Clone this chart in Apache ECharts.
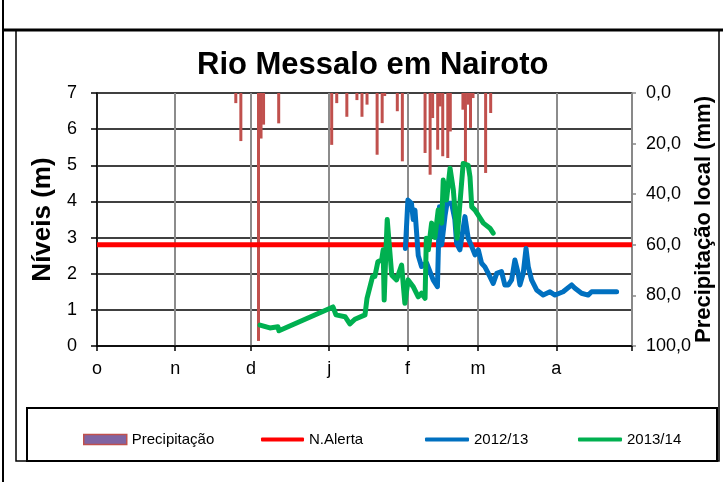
<!DOCTYPE html>
<html>
<head>
<meta charset="utf-8">
<script src="https://cdn.jsdelivr.net/npm/echarts@6/dist/echarts.min.js"></script>
<style>
html, body { margin: 0; padding: 0; background: #fff; }
#chartBox { width: 723px; height: 495px; }
</style>
</head>
<body>
<div id="chartBox"></div>
<script>
// eixo x: dias desde 1 de outubro
const monthDays = [0, 31, 61, 92, 123, 151, 182, 212]
const monthLabels = ['o', 'n', 'd', 'j', 'f', 'm', 'a', '']

// precipitação local (mm)
const rainDays = [55, 57, 64, 65, 66, 72, 93, 95, 99, 103, 105, 107, 111, 113, 114, 119, 121, 130, 132, 133, 135, 136, 137, 139, 140, 145, 146, 147, 148, 149, 154, 156]
const rainMm = [4, 19, 98, 18, 12.5, 12, 20.5, 4, 9.4, 2.8, 9.4, 4.6, 24.4, 11.9, 1.2, 7.2, 27, 23.7, 32.3, 9.9, 22.4, 5.3, 25, 25.7, 15.2, 6.6, 28.3, 4.6, 13.8, 2, 31.6, 7.9]

// nível de alerta
const alertDays = [0, 212]
const alertLevel = [2.8, 2.8]

// 2012/13
const days1213 = [122.2, 123.2, 124.6, 125.3, 126.0, 127.3, 128.6, 130.6, 133.2, 134.9, 135.7, 136.6, 137.9, 138.7, 140.5, 141.8, 142.5, 143.8, 145.8, 147.1, 148.5, 149.8, 151.1, 152.4, 153.7, 155.7, 157.0, 158.4, 160.3, 161.6, 163.0, 164.3, 165.6, 166.9, 167.6, 168.9, 170.0, 170.9, 172.2, 174.2, 176.8, 179.5, 181.5, 184.7, 188.1, 189.4, 192.0, 194.6, 196.0, 205.9]
const levels1213 = [2.7, 4.04, 3.95, 3.5, 3.76, 2.5, 2.2, 2.3, 1.83, 1.64, 3.85, 2.8, 3.6, 3.95, 3.95, 3.5, 2.84, 2.66, 3.58, 2.98, 2.75, 2.52, 2.66, 2.29, 2.19, 1.92, 1.73, 2.01, 2.06, 1.69, 1.69, 1.83, 2.38, 2.01, 1.69, 2.01, 2.7, 2.19, 1.83, 1.55, 1.41, 1.5, 1.41, 1.5, 1.69, 1.6, 1.46, 1.41, 1.5, 1.5]

// 2013/14
const days1314 = [64.6, 68.5, 71.7, 72.1, 93.5, 94.7, 98.3, 100.2, 102.2, 106.2, 107.0, 109.2, 110.1, 111.3, 112.8, 113.4, 113.8, 114.4, 115.0, 116.8, 118.7, 120.7, 122.0, 123.3, 125.3, 127.3, 128.6, 130.0, 130.5, 131.3, 132.6, 133.9, 135.2, 136.6, 137.2, 138.5, 139.9, 141.2, 142.7, 145.1, 147.1, 147.8, 148.5, 149.8, 153.1, 155.7, 157.0]
const levels1314 = [0.58, 0.5, 0.53, 0.42, 1.08, 0.86, 0.81, 0.61, 0.74, 0.86, 1.32, 1.92, 1.92, 2.33, 2.38, 2.66, 1.27, 2.47, 3.5, 1.96, 1.83, 2.24, 1.18, 1.83, 1.64, 1.36, 1.46, 1.32, 2.98, 2.66, 3.4, 3.0, 3.76, 3.4, 4.59, 4.04, 4.92, 4.32, 2.98, 5.05, 5.0, 4.68, 3.85, 3.76, 3.4, 3.26, 3.12]

function pairs (xs, ys) {
  return xs.map((x, i) => [x, ys[i]])
}

const font = '"Liberation Sans", Arial, sans-serif'
const legendText = { fontSize: 15, color: '#000', fontFamily: font }

let myChart = echarts.init(document.getElementById('chartBox'))
myChart.setOption({
  animation: false,
  textStyle: { fontFamily: font },
  title: {
    text: 'Rio Messalo em Nairoto',
    left: 192,
    top: 45,
    textStyle: { fontSize: 31, fontWeight: 'bold', color: '#000', fontFamily: font }
  },
  grid: { left: 97, right: 91, top: 93, bottom: 149, outerBoundsMode: 'none', containLabel: false },
  legend: [
    {
      left: 78, top: 427, itemWidth: 43, itemHeight: 10, textStyle: legendText,
      data: [{ name: 'Precipitação', icon: 'rect', itemStyle: { color: '#8064A2', borderColor: '#C0504D', borderWidth: 1.5 } }]
    },
    { left: 256, top: 427, itemWidth: 43, itemHeight: 4, textStyle: legendText, data: [{ name: 'N.Alerta', icon: 'roundRect' }] },
    { left: 420, top: 427, itemWidth: 44, itemHeight: 4, textStyle: legendText, data: [{ name: '2012/13', icon: 'roundRect' }] },
    { left: 573, top: 427, itemWidth: 44, itemHeight: 4, textStyle: legendText, data: [{ name: '2013/14', icon: 'roundRect' }] }
  ],
  xAxis: {
    type: 'value',
    min: 0,
    max: 212,
    axisLine: { lineStyle: { color: '#000', width: 1.5 } },
    axisTick: { customValues: monthDays, length: 5, lineStyle: { color: '#000', width: 1.5 } },
    axisLabel: {
      customValues: monthDays.slice(0, 7),
      formatter: v => monthLabels[monthDays.indexOf(v)],
      fontSize: 18,
      color: '#000',
      margin: 14
    },
    splitLine: { show: true, lineStyle: { color: '#8c8c8c', width: 2 } }
  },
  yAxis: [
    {
      type: 'value',
      min: 0,
      max: 7,
      interval: 1,
      name: 'Níveis (m)',
      nameLocation: 'middle',
      nameRotate: 90,
      nameGap: 41,
      nameTextStyle: { fontSize: 26, fontWeight: 'bold', color: '#000' },
      axisLine: { show: true, lineStyle: { color: '#000', width: 1.5 } },
      axisTick: { show: true, length: 6, lineStyle: { color: '#000', width: 1.5 } },
      axisLabel: { fontSize: 18, color: '#000', margin: 20 },
      splitLine: { lineStyle: { color: '#000', width: 1.5 } }
    },
    {
      type: 'value',
      min: 0,
      max: 100,
      interval: 20,
      inverse: true,
      position: 'right',
      name: 'Precipitação local (mm)',
      nameLocation: 'middle',
      nameRotate: 90,
      nameGap: 61,
      nameMoveOverlap: false,
      nameTextStyle: { fontSize: 22, fontWeight: 'bold', color: '#000' },
      axisLine: { show: true, lineStyle: { color: '#888', width: 1.5 } },
      axisTick: { show: true, length: 4, lineStyle: { color: '#888', width: 1.5 } },
      axisLabel: { fontSize: 18, color: '#000', margin: 14, formatter: v => v.toFixed(1).replace('.', ',') },
      splitLine: { show: false }
    }
  ],
  series: [
    {
      name: 'Precipitação',
      type: 'bar',
      yAxisIndex: 1,
      barWidth: 3,
      itemStyle: { color: '#C0504D' },
      data: pairs(rainDays, rainMm)
    },
    {
      name: 'N.Alerta',
      type: 'line',
      symbol: 'none',
      itemStyle: { color: '#FF0000' },
      lineStyle: { color: '#FF0000', width: 5 },
      data: pairs(alertDays, alertLevel)
    },
    {
      name: '2012/13',
      type: 'line',
      symbol: 'none',
      itemStyle: { color: '#0070C0' },
      lineStyle: { color: '#0070C0', width: 5, cap: 'round', join: 'round' },
      data: pairs(days1213, levels1213)
    },
    {
      name: '2013/14',
      type: 'line',
      symbol: 'none',
      itemStyle: { color: '#00B050' },
      lineStyle: { color: '#00B050', width: 5, cap: 'round', join: 'round' },
      data: pairs(days1314, levels1314)
    }
  ],
  graphic: [
    { type: 'line', shape: { x1: 3, y1: 0, x2: 3, y2: 482 }, style: { stroke: '#000', lineWidth: 2 } },
    { type: 'line', shape: { x1: 3, y1: 30, x2: 723, y2: 30 }, style: { stroke: '#000', lineWidth: 3 } },
    { type: 'rect', shape: { x: 16, y: 30, width: 703, height: 431 }, style: { fill: 'none', stroke: '#000', lineWidth: 1.5 } },
    { type: 'rect', shape: { x: 27, y: 408, width: 690, height: 53 }, style: { fill: 'none', stroke: '#000', lineWidth: 2 } }
  ]
})
</script>
</body>
</html>
